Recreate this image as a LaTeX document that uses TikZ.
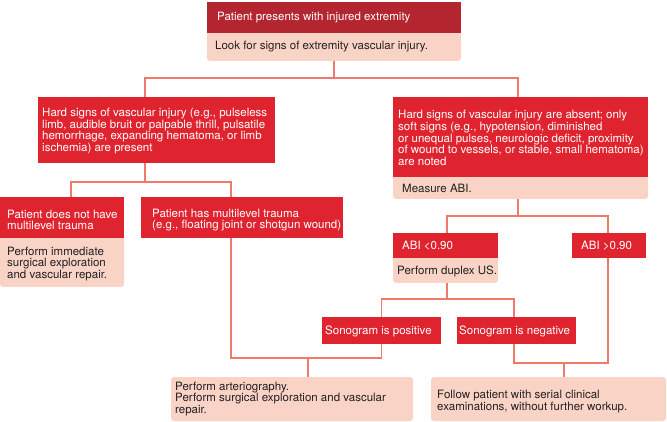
\documentclass[tikz,border=0pt]{standalone}
\usepackage{fontspec}
\setmainfont{TeX Gyre Heros}
\definecolor{dred}{HTML}{B3262F}
\definecolor{bred}{HTML}{E0242F}
\definecolor{pale}{HTML}{F9D4C6}
\definecolor{salmon}{HTML}{EF7A6A}
\definecolor{ink}{HTML}{231F20}
\tikzset{
  box/.style={anchor=north west, inner sep=0pt, outer sep=0pt, draw=none},
  redbox/.style={box, fill=bred},
  darkbox/.style={box, fill=dred},
  palebox/.style={box, fill=pale, rounded corners=3pt},
  wtxt/.style={anchor=west, inner sep=0pt, align=left, text=white, font=\fontsize{11.5}{11.7}\selectfont},
  ktxt/.style={wtxt, text=ink},
  conn/.style={draw=salmon, line width=1.3pt}
}
\begin{document}
\begin{tikzpicture}[x=1pt,y=-1pt]
\useasboundingbox (0,0) rectangle (667,422);
% pale boxes first
\node[palebox, minimum width=254pt, minimum height=33pt] (topP) at (207,28) {};
\node[palebox, minimum width=124pt, minimum height=54pt] (noMLp) at (0,233) {};
\node[palebox, minimum width=255pt, minimum height=27pt] (meas) at (393,172) {};
\node[palebox, minimum width=105pt, minimum height=30pt] (duplex) at (393,253) {};
\node[palebox, minimum width=242pt, minimum height=44pt] (arter) at (171,377) {};
\node[palebox, minimum width=235pt, minimum height=44pt] (follow) at (431,377) {};
% red boxes
\node[darkbox, minimum width=254pt, minimum height=31pt] (top) at (207,2) {};
\node[redbox, minimum width=237pt, minimum height=66pt] (hardL) at (38,97) {};
\node[redbox, minimum width=255pt, minimum height=80pt] (hardR) at (393,97) {};
\node[redbox, minimum width=124pt, minimum height=41pt] (noML) at (0,197) {};
\node[redbox, minimum width=202pt, minimum height=41pt] (ML) at (141,197) {};
\node[redbox, minimum width=105pt, minimum height=25pt] (ABIlo) at (393,233) {};
\node[redbox, minimum width=74pt, minimum height=25pt] (ABIhi) at (572,233) {};
\node[redbox, minimum width=119pt, minimum height=27pt] (sonoP) at (322,317) {};
\node[redbox, minimum width=119pt, minimum height=27pt] (sonoN) at (457,317) {};
% texts
\node[wtxt] (tTop) at (217,17.5) {Patient presents with injured extremity};
\node[ktxt] (tTopP) at (215,47) {Look for signs of extremity vascular injury.};
\node[wtxt] (tHardL) at (42,131) {Hard signs of vascular injury (e.g., pulseless\\limb, audible bruit or palpable thrill, pulsatile\\hemorrhage, expanding hematoma, or limb\\ischemia) are present};
\node[wtxt] (tHardR) at (398,138) {Hard signs of vascular injury are absent; only\\soft signs (e.g., hypotension, diminished\\or unequal pulses, neurologic deficit, proximity\\of wound to vessels, or stable, small hematoma)\\are noted};
\node[ktxt] (tMeas) at (402,188) {Measure ABI.};
\node[wtxt] (tNoML) at (7,220) {Patient does not have\\multilevel trauma};
\node[ktxt] (tNoMLp) at (7,264) {Perform immediate\\surgical exploration\\and vascular repair.};
\node[wtxt] (tML) at (152,220) {Patient has multilevel trauma\\(e.g., floating joint or shotgun wound)};
\node[wtxt] (tABIlo) at (402,246) {ABI <0.90};
\node[ktxt] (tDuplex) at (397,271) {Perform duplex US.};
\node[wtxt] (tABIhi) at (581,246) {ABI >0.90};
\node[wtxt] (tSonoP) at (325,331) {Sonogram is positive};
\node[wtxt] (tSonoN) at (459,331) {Sonogram is negative};
\node[ktxt] (tArter) at (175,399) {Perform arteriography.\\Perform surgical exploration and vascular\\repair.};
\node[ktxt] (tFollow) at (437,401.5) {Follow patient with serial clinical\\examinations, without further workup.};
% connectors
\draw[conn] (topP.south) -- ++(0,17) coordinate (b1);
\draw[conn] ([xshift=-11.5pt]hardL.north) |- (b1) -| ([xshift=-2.5pt]hardR.north);
\draw[conn] ([xshift=-11.5pt]hardL.south) -- ++(0,19) coordinate (b2);
\draw[conn] ([xshift=9pt]noML.north) |- (b2) -| ([xshift=-11pt]ML.north);
\draw[conn] ([xshift=-11pt]ML.south) |- ([yshift=-14pt]sonoP.south) -- (sonoP.south);
\draw[conn] ([xshift=16pt]arter.north) -- ++(0,-19);
\draw[conn] ([xshift=-2.5pt]meas.south) -- ++(0,17) coordinate (b3);
\draw[conn] ([xshift=1.5pt]ABIlo.north) |- (b3) -| ([xshift=-1pt]ABIhi.north);
\draw[conn] ([xshift=1.5pt]duplex.south) -- ++(0,16) coordinate (b4);
\draw[conn] (sonoP.north) |- (b4) -| ([xshift=-2.5pt]sonoN.north);
\draw[conn] ([xshift=-2.5pt]sonoN.south) -- ++(0,19) -| ([xshift=-1pt]ABIhi.south);
\draw[conn] ([xshift=15.5pt]follow.north) -- ++(0,-14);
\end{tikzpicture}
\end{document}
